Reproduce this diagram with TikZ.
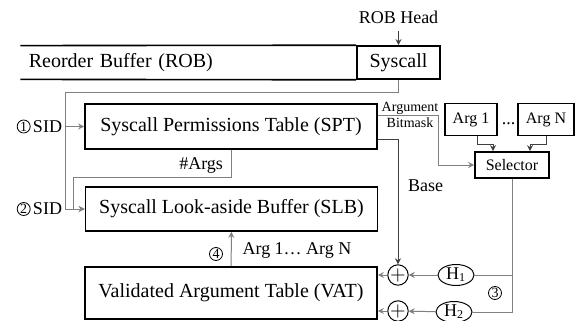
\documentclass[tikz,border=0pt]{standalone}
\usepackage{fontspec}
\setmainfont{Liberation Serif}
\usetikzlibrary{shapes,arrows.meta,positioning,calc}

\begin{document}
\begin{tikzpicture}[x=0.5pt, y=-0.5pt,
    tbl/.style={draw, line width=0.8pt, minimum width=146pt, font=\fontsize{10}{12}\selectfont},
    argbox/.style={draw, line width=0.8pt, inner sep=1pt, font=\fontsize{8}{10}\selectfont},
    num/.style={circle, draw, line width=0.4pt, inner sep=0pt, minimum size=6.5pt, font=\fontsize{7}{7}\selectfont},
    adder/.style={circle, draw, line width=0.5pt, inner sep=0pt, minimum size=9pt},
    hash/.style={ellipse, draw, line width=0.5pt, inner sep=0pt, minimum width=18pt, minimum height=10.5pt, font=\fontsize{9}{9}\selectfont},
    lbl/.style={font=\fontsize{9}{11}\selectfont},
    gline/.style={gray, line width=0.5pt},
    garrow/.style={gline, -{Stealth[length=3pt, width=3pt]}},
    darrow/.style={black!75, line width=0.5pt, -{Stealth[length=3pt, width=3pt]}}]

    \useasboundingbox (0,0) rectangle (579,321);

    % Reorder buffer with the syscall entry at its head
    \node[draw, line width=0.8pt, minimum width=41.5pt, minimum height=16.5pt,
          font=\fontsize{10}{12}\selectfont] (sys) at (398.5,62.5) {Syscall};
    \node[anchor=east, minimum height=16.5pt, text width=159.5pt, inner xsep=4pt,
          align=left, font=\fontsize{10}{12}\selectfont] (rob) at (sys.west) {Reorder Buffer (ROB)};
    \draw[line width=0.8pt] (rob.north west) -- (sys.north west)
                            (rob.south west) -- (sys.south west);
    \node[lbl, above=7pt of sys] (head) {ROB Head};
    \draw[darrow] (head) -- (sys);

    % Tables
    \node[tbl, minimum height=22.5pt] (spt) at (231,126.5) {Syscall Permissions Table (SPT)};
    \node[tbl, minimum height=22pt] (slb) at (231.5,209) {Syscall Look-aside Buffer (SLB)};
    \node[tbl, minimum height=26pt] (vat) at (231,293) {Validated Argument Table (VAT)};

    % SID lookups
    \node[lbl, inner xsep=1pt] (sid1) at (47.5,126.5) {SID};
    \node[num, left=0pt of sid1] (n1) {1};
    \node[lbl, inner xsep=1pt] (sid2) at (47.5,209) {SID};
    \node[num, left=0pt of sid2] (n2) {2};
    \coordinate (sidtop) at (65,92);
    \draw[garrow] (sys.south) |- (sidtop) |- (slb.west);
    \draw[garrow] (sidtop |- spt.west) -- (spt.west);

    % number of arguments
    \coordinate (argsleft) at (73,177);
    \draw[garrow] (spt.south) |- (argsleft) |- (slb.west);
    \node[lbl, anchor=east] (nargs) at ($(spt.south)+(-1,16)$) {\#Args};

    % Argument registers and selector
    \node[argbox, minimum width=26pt, minimum height=16pt] (arg1) at (471,119.5) {Arg 1};
    \node[argbox, minimum width=28pt, minimum height=16pt] (argN) at (546,119.5) {Arg N};
    \node[font=\fontsize{9}{9}\selectfont] (dots) at (508.5,124) {...};
    \node[argbox, minimum width=37pt, minimum height=13pt] (sel) at (512,165) {Selector};
    \draw[darrow] ($(arg1.south)+(6,0)$) -- ++(0,8) -| ($(sel.north)+(-19,0)$);
    \draw[darrow] (argN.south) -- ++(0,8) -| ($(sel.north)+(18,0)$);

    % Argument bitmask
    \coordinate (bmcorner) at (438,115);
    \draw[garrow] (spt.east |- bmcorner) -- (bmcorner) |- (sel.west);
    \node[font=\fontsize{7}{8}\selectfont, align=center] (bm) at (410,115) {Argument\\Bitmask};

    % Hashing into the VAT
    \node[adder] (add1) at (398,275) {$+$};
    \node[adder] (add2) at (398,311) {$+$};
    \node[hash] (h1) at (456,275) {H\textsubscript{1}};
    \node[hash] (h2) at (454,312) {H\textsubscript{2}};
    \draw[gline] (sel.south) |- (h2.east);
    \draw[gline] (h1.east) -- (h1.east -| sel.south);
    \draw[garrow] (h1) -- (add1);
    \draw[garrow] (h2) -- (add2);
    \draw[garrow] (add1.west) -- (add1.west -| vat.east);
    \draw[garrow] (add2.west) -- (add2.west -| vat.east);
    \node[num] (n3) at (495,293) {3};

    % Base address
    \draw[darrow] ($(spt.south east)+(0,-10)$) -| (add1.north);
    \node[lbl, anchor=west] (base) at (401,186) {Base};

    % Validated arguments back to the SLB
    \draw[garrow] (vat) -- (slb);
    \node[num] (n4) at (216,254) {4};
    \node[lbl] (vargs) at (297,250) {Arg 1… Arg N};

\end{tikzpicture}
\end{document}
